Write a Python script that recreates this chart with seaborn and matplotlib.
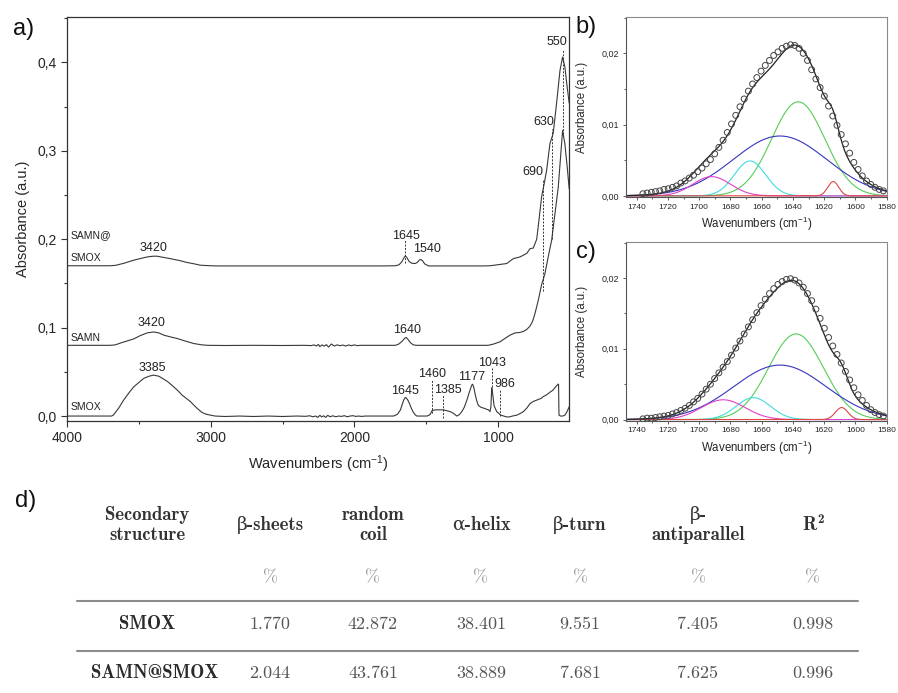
import numpy as np
import pandas as pd
import matplotlib
matplotlib.use("Agg")
import matplotlib.pyplot as plt
import seaborn as sns
from matplotlib.ticker import MultipleLocator

### FTIR SPECTRA (panel a) ###
smox_wn = [4000, 3850, 3720, 3690, 3678, 3640, 3606, 3570, 3536, 3500, 3466, 3430, 3397, 3360,
           3330, 3300, 3257, 3230, 3199, 3170, 3140, 3115, 3094, 3060, 3030, 3000, 2970, 2900,
           2800, 2700, 2600, 2500, 2400, 2340, 2310, 2290, 2270, 2255, 2240, 2228, 2215, 2200,
           2185, 2170, 2150, 2130, 2110, 2090, 2070, 2050, 2030, 2010, 1990, 1970, 1950, 1920,
           1880, 1820, 1760, 1727, 1700, 1680, 1665, 1657, 1646, 1639, 1628, 1616, 1604, 1592,
           1578, 1565, 1530, 1495, 1480, 1472, 1460, 1450, 1438, 1410, 1380, 1355, 1333, 1310,
           1287, 1270, 1252, 1235, 1217, 1200, 1183, 1177, 1168, 1160, 1148, 1137, 1120, 1102,
           1090, 1078, 1066, 1056, 1050, 1044, 1038, 1028, 1018, 1009, 995, 981, 960, 940, 920,
           900, 870, 845, 824, 800, 778, 755, 731, 700, 685, 662, 639, 620, 597, 583, 579, 576,
           565, 550, 535, 520, 505]
smox_abs = [0.0, 0.0, 0.0, 0.0, 0.001, 0.009, 0.018, 0.026, 0.033, 0.038, 0.0426, 0.045, 0.0463,
            0.045, 0.042, 0.039, 0.033, 0.029, 0.0237, 0.020, 0.0162, 0.012, 0.0087, 0.004,
            0.002, 0.001, 0.0, -0.0005, 0.0, -0.0005, 0.0, -0.0005, 0.0, -0.0003, 0.0003, -0.0008,
            0.0, -0.0015, 0.0008, -0.001, 0.0003, -0.0015, 0.0008, -0.0008, 0.0003, -0.0008, 0.0,
            -0.0004, 0.0004, -0.0008, 0.0, 0.0004, -0.0004, 0.0, -0.0004, 0.0, 0.0, 0.0, 0.0,
            0.0, 0.002, 0.0068, 0.014, 0.018, 0.021, 0.0205, 0.018, 0.014, 0.009, 0.005, 0.0015,
            0.0, 0.0, 0.0, 0.001, 0.002, 0.006, 0.0065, 0.007, 0.007, 0.007, 0.006, 0.005, 0.003,
            0.0, 0.0015, 0.005, 0.010, 0.018, 0.027, 0.035, 0.036, 0.032, 0.025, 0.017, 0.012,
            0.010, 0.009, 0.0085, 0.0075, 0.007, 0.005, 0.010, 0.032, 0.026, 0.012, 0.008, 0.005,
            0.003, 0.001, 0.0, -0.001, -0.001, 0.0, 0.001, 0.003, 0.005, 0.009, 0.014, 0.0165,
            0.018, 0.020, 0.022, 0.024, 0.027, 0.029, 0.0335, 0.036, 0.036, 0.001, 0.0, 0.0,
            0.001, 0.005, 0.0105]

samn_wn = [4000, 3850, 3700, 3664, 3620, 3580, 3536, 3490, 3441, 3397, 3360, 3326, 3280, 3233,
           3180, 3117, 3060, 3021, 2900, 2700, 2500, 2350, 2300, 2280, 2265, 2250, 2240, 2225,
           2210, 2195, 2180, 2160, 2140, 2120, 2100, 2080, 2060, 2040, 2020, 2000, 1980, 1960,
           1900, 1800, 1715, 1690, 1665, 1650, 1639, 1628, 1610, 1590, 1565, 1400, 1200, 1069,
           1030, 986, 950, 917, 882, 850, 824, 800, 778, 760, 743, 720, 697, 674, 651, 627, 604,
           581, 565, 551, 535, 519, 505]
samn_abs = [0.080, 0.080, 0.080, 0.0805, 0.083, 0.085, 0.0872, 0.091, 0.0941, 0.0951, 0.094,
            0.0915, 0.0895, 0.0877, 0.085, 0.082, 0.0805, 0.080, 0.0798, 0.080, 0.0798, 0.080,
            0.0797, 0.0805, 0.0792, 0.081, 0.0785, 0.0805, 0.079, 0.0808, 0.078, 0.0815, 0.0792,
            0.0805, 0.0796, 0.0803, 0.0792, 0.0804, 0.0796, 0.0805, 0.0796, 0.080, 0.080, 0.080,
            0.080, 0.0815, 0.085, 0.088, 0.0889, 0.087, 0.083, 0.0805, 0.080, 0.080, 0.080, 0.080,
            0.0815, 0.084, 0.088, 0.0915, 0.094, 0.0945, 0.0957, 0.098, 0.1017, 0.107, 0.116,
            0.131, 0.1486, 0.161, 0.180, 0.1989, 0.229, 0.259, 0.293, 0.323, 0.308, 0.282, 0.257]

samn_smox_wn = [4000, 3850, 3700, 3660, 3600, 3536, 3480, 3441, 3400, 3374, 3330, 3280, 3220,
                3164, 3110, 3071, 3000, 2955, 2800, 2600, 2400, 2200, 2000, 1800, 1715, 1690,
                1670, 1655, 1646, 1635, 1620, 1600, 1576, 1560, 1548, 1537, 1525, 1510, 1484,
                1300, 1100, 1055, 1000, 940, 894, 847, 800, 778, 755, 731, 715, 697, 680, 662,
                639, 616, 592, 569, 551, 535, 519, 505]
samn_smox_abs = [0.170, 0.170, 0.170, 0.1705, 0.173, 0.1763, 0.1785, 0.180, 0.1808, 0.1808,
                 0.1795, 0.178, 0.176, 0.1737, 0.172, 0.1706, 0.170, 0.1698, 0.1698, 0.1698,
                 0.1698, 0.1698, 0.1698, 0.1698, 0.170, 0.171, 0.1745, 0.179, 0.1811, 0.1795,
                 0.175, 0.1728, 0.1725, 0.174, 0.1765, 0.1771, 0.1755, 0.172, 0.1698, 0.1698,
                 0.1698, 0.170, 0.1712, 0.1725, 0.178, 0.180, 0.184, 0.1893, 0.190, 0.200, 0.222,
                 0.248, 0.262, 0.278, 0.308, 0.320, 0.355, 0.391, 0.406, 0.395, 0.372, 0.354]

a_xticks = [4000, 3000, 2000, 1000]
a_xticklabels = ["4000", "3000", "2000", "1000"]
a_yticks = [0.0, 0.1, 0.2, 0.3, 0.4]
a_yticklabels = ["0,0", "0,1", "0,2", "0,3", "0,4"]

### AMIDE I DECONVOLUTION (panels b, c) ###
amide_wn = np.linspace(1736, 1582.1, 58)
b_abs = [0.0003, 0.0004, 0.0005, 0.0006, 0.0007, 0.0009, 0.0010, 0.0012, 0.0014, 0.0018,
         0.0021, 0.0025, 0.0029, 0.0034, 0.0039, 0.0045, 0.0051, 0.0059, 0.0068, 0.0078,
         0.0089, 0.0101, 0.0113, 0.0125, 0.0136, 0.0147, 0.0157, 0.0166, 0.0175, 0.0183,
         0.0190, 0.0197, 0.0202, 0.0207, 0.0210, 0.0212, 0.0211, 0.0207, 0.0200, 0.0190,
         0.0177, 0.0164, 0.0152, 0.0140, 0.0126, 0.0112, 0.0099, 0.0086, 0.0073, 0.0060,
         0.0047, 0.0037, 0.0028, 0.0021, 0.0016, 0.0012, 0.0009, 0.0007]
c_abs = [0.0001, 0.0002, 0.0002, 0.0003, 0.0004, 0.0005, 0.0006, 0.0008, 0.0010, 0.0013,
         0.0016, 0.0020, 0.0025, 0.0030, 0.0036, 0.0043, 0.0050, 0.0058, 0.0066, 0.0074,
         0.0082, 0.0091, 0.0101, 0.0111, 0.0121, 0.0131, 0.0141, 0.0151, 0.0161, 0.0170,
         0.0178, 0.0185, 0.0191, 0.0195, 0.0198, 0.0199, 0.0197, 0.0193, 0.0187, 0.0178,
         0.0168, 0.0156, 0.0143, 0.0129, 0.0116, 0.0104, 0.0092, 0.0080, 0.0068, 0.0056,
         0.0045, 0.0035, 0.0027, 0.0020, 0.0014, 0.0010, 0.0007, 0.0005]

# fitted gaussian bands (green, blue, cyan, magenta, red): centre, height, sigma
b_center = [1636.6, 1648.3, 1667.5, 1692.0, 1614.2]
b_height = [0.0132, 0.0084, 0.0049, 0.0027, 0.0020]
b_sigma = [17.0, 30.0, 10.0, 12.0, 3.5]
c_center = [1638.0, 1648.3, 1665.4, 1684.6, 1608.8]
c_height = [0.0121, 0.0077, 0.0031, 0.0028, 0.0017]
c_sigma = [17.5, 29.5, 11.0, 14.0, 4.0]
band_colors = ["#55cc55", "#3535c0", "#40dce0", "#e040c8", "#e04545"]

bc_xticks = [1740, 1720, 1700, 1680, 1660, 1640, 1620, 1600, 1580]
bc_yticks = [0.0, 0.01, 0.02]
bc_yticklabels = ["0,00", "0,01", "0,02"]

### TABLE (panel d) ###
table_head = ["Secondary\nstructure", "β-sheets", "random\ncoil", "α-helix", "β-turn",
              "β-\nantiparallel", "R$^2$"]
table_unit = ["", "%", "%", "%", "%", "%", "%"]
row_smox = ["SMOX", "1.770", "42.872", "38.401", "9.551", "7.405", "0.998"]
row_samn_smox = ["SAMN@SMOX", "2.044", "43.761", "38.889", "7.681", "7.625", "0.996"]


sns.set_style("ticks")
plt.rcParams["font.family"] = ["Liberation Sans", "DejaVu Sans"]
plt.rcParams["mathtext.default"] = "regular"

fig = plt.figure(figsize=(8.98, 6.93), dpi=100)

################! Panel a !################
axa = fig.add_axes([0.0746, 0.3925, 0.5594, 0.5825])
for wn, ab in [(smox_wn, smox_abs), (samn_wn, samn_abs), (samn_smox_wn, samn_smox_abs)]:
    sns.lineplot(x=wn, y=ab, ax=axa, color="#383838", linewidth=0.8,
                 estimator=None, sort=False)

#! dotted peak markers
guides = [(1645, 0.173, 0.199), (1460, 0.003, 0.0407), (1385, -0.002, 0.0237),
          (1043, 0.033, 0.054), (986, 0.0, 0.0294), (690, 0.142, 0.268),
          (628, 0.200, 0.325), (550, 0.319, 0.4155)]
for x0, y0, y1 in guides:
    axa.plot([x0, x0], [y0, y1], color="#333333", lw=0.7, ls=(0, (2, 1.5)))

peak_labels = [("550", 592, 0.423), ("630", 685, 0.3326), ("690", 755, 0.276),
               ("1645", 1639, 0.2034), ("1540", 1495, 0.1887), ("1640", 1632, 0.097),
               ("1645", 1646, 0.0286), ("1460", 1460, 0.047), ("1385", 1352, 0.030),
               ("1177", 1183, 0.0444), ("1043", 1040, 0.0603), ("986", 951, 0.036),
               ("3420", 3400, 0.190), ("3420", 3415, 0.1047), ("3385", 3405, 0.0546)]
for t, x0, y0 in peak_labels:
    axa.text(x0, y0, t, ha="center", va="center", fontsize=9, color="#222222")

for t, y0 in [("SAMN@", 0.2045), ("SMOX", 0.1793), ("SAMN", 0.0885), ("SMOX", 0.0098)]:
    axa.text(3975, y0, t, ha="left", va="center", fontsize=7.5, color="#222222")

axa.set_xlim(4000, 504)
axa.set_ylim(-0.0056, 0.451)
axa.set_xticks(a_xticks, a_xticklabels)
axa.set_yticks(a_yticks, a_yticklabels)
axa.xaxis.set_minor_locator(MultipleLocator(500))
axa.yaxis.set_minor_locator(MultipleLocator(0.05))
axa.tick_params(which="major", direction="out", length=4, width=0.8, pad=3.5,
                labelsize=10, color="#333333")
axa.tick_params(which="minor", direction="out", length=2.5, width=0.8, color="#333333")
axa.set_xlabel("Wavenumbers (cm$^{-1}$)", fontsize=10.5, labelpad=6)
axa.set_ylabel("Absorbance (a.u.)", fontsize=10.5, labelpad=5)
for s in axa.spines.values():
    s.set_color("#333333")
    s.set_linewidth(0.9)


################! Panels b, c !################
def band(x, c, h, w):
    return h * np.exp(-(x - c) ** 2 / (2 * w ** 2))


def fit_panel(ax, absv, centers, heights, sigmas):
    xx = np.linspace(1747, 1580, 500)
    total = np.zeros_like(xx)
    for c, h, w, col in zip(centers, heights, sigmas, band_colors):
        yy = band(xx, c, h, w)
        total = total + yy
        sns.lineplot(x=xx, y=yy, ax=ax, color=col, linewidth=0.8, estimator=None, sort=False)
    sns.lineplot(x=xx, y=total, ax=ax, color="#222222", linewidth=0.9,
                 estimator=None, sort=False)
    sns.scatterplot(x=amide_wn, y=absv, ax=ax, s=18, marker="o", facecolor="none",
                    edgecolor="#444444", linewidth=0.7, zorder=3)
    ax.set_xlim(1747, 1580)
    ax.set_ylim(-0.0002, 0.02505)
    ax.set_xticks(bc_xticks, [str(v) for v in bc_xticks])
    ax.set_yticks(bc_yticks, bc_yticklabels)
    ax.xaxis.set_minor_locator(MultipleLocator(10))
    ax.yaxis.set_minor_locator(MultipleLocator(0.005))
    ax.tick_params(which="major", direction="out", length=2.5, width=0.6, pad=2,
                   color="#444444")
    ax.tick_params(axis="x", which="major", labelsize=6)
    ax.tick_params(axis="y", which="major", labelsize=6.5)
    ax.tick_params(which="minor", direction="out", length=1.5, width=0.6, color="#444444")
    ax.set_xlabel("Wavenumbers (cm$^{-1}$)", fontsize=8.3, labelpad=3)
    ax.set_ylabel("Absorbance (a.u.)", fontsize=8.3)
    ax.yaxis.set_label_coords(-0.145, 0.5)
    for s in ax.spines.values():
        s.set_color("#555555")
        s.set_linewidth(0.8)
    ax.spines["top"].set_color("#8a8a8a")
    ax.spines["right"].set_color("#8a8a8a")


axb = fig.add_axes([0.6968, 0.7153, 0.2906, 0.2597])
fit_panel(axb, b_abs, b_center, b_height, b_sigma)
axc = fig.add_axes([0.6968, 0.3925, 0.2906, 0.2579])
fit_panel(axc, c_abs, c_center, c_height, c_sigma)


################! Panel d (table) + panel letters !################
axt = fig.add_axes([0, 0, 1, 1])
axt.set_xlim(0, 898)
axt.set_ylim(693, 0)
axt.axis("off")

bold = ["cmb10", "DejaVu Serif"]
regular = ["cmr10", "DejaVu Serif"]
col_x = [147, 270, 373, 481, 580, 698, 813]

for i, (x0, h, u, r1, r2) in enumerate(zip(col_x, table_head, table_unit, row_smox, row_samn_smox)):
    axt.text(x0, 525, h, ha="center", va="center", family=bold, fontsize=13.5,
             color="#333333", linespacing=1.1)
    axt.text(x0, 578, u, ha="center", va="center", family=regular, fontsize=13,
             color="#999999")
    if i == 0:
        axt.text(x0, 624, r1, ha="center", va="center", family=bold, fontsize=13.5,
                 color="#2a2a2a")
        axt.text(155, 673, r2, ha="center", va="center", family=bold, fontsize=13.5,
                 color="#2a2a2a")
    else:
        axt.text(x0, 624, r1, ha="center", va="center", family=regular, fontsize=13,
                 color="#555555")
        axt.text(x0, 673, r2, ha="center", va="center", family=regular, fontsize=13,
                 color="#555555")

for y0 in [600.7, 650.7]:
    axt.plot([77, 858], [y0, y0], color="#8c8c8c", lw=1.5)

for t, x0, y0 in [("a)", 24, 29), ("b)", 586, 27), ("c)", 586, 252), ("d)", 26, 501)]:
    axt.text(x0, y0, t, ha="center", va="center", fontsize=17, color="#111111")

plt.savefig("out.png", dpi=100)
